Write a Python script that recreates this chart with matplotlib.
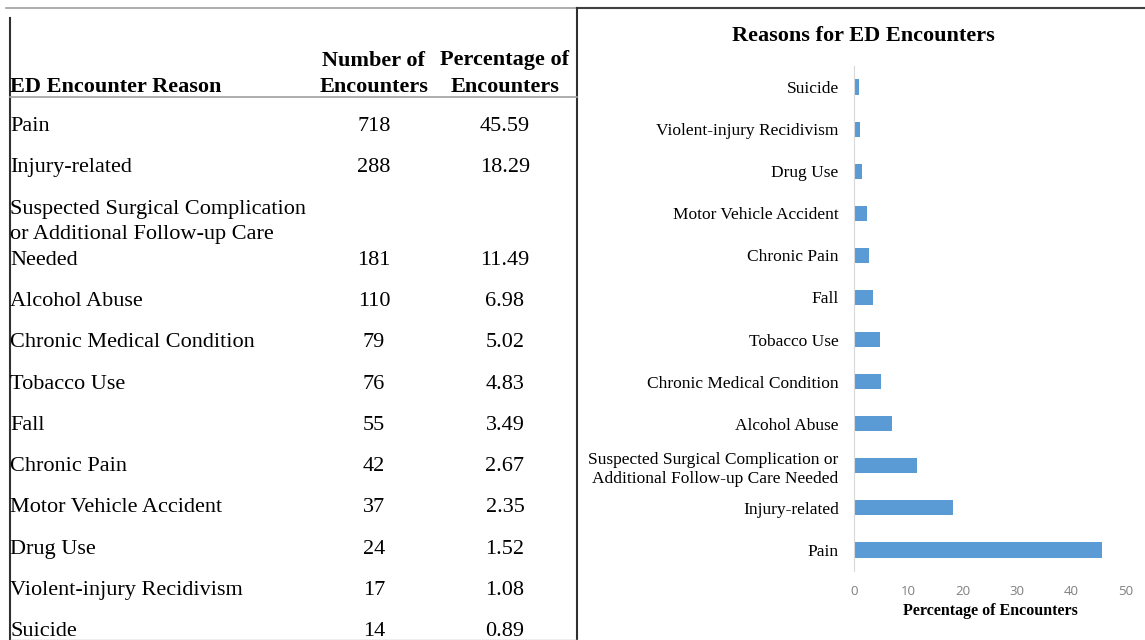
import matplotlib
matplotlib.use('Agg')
import matplotlib.pyplot as plt

# data
reasons = ['Pain', 'Injury-related',
           'Suspected Surgical Complication\nor Additional Follow-up Care\nNeeded',
           'Alcohol Abuse', 'Chronic Medical Condition', 'Tobacco Use', 'Fall',
           'Chronic Pain', 'Motor Vehicle Accident', 'Drug Use',
           'Violent-injury Recidivism', 'Suicide']
chart_labels = ['Pain', 'Injury-related',
                'Suspected Surgical Complication or\nAdditional Follow-up Care Needed',
                'Alcohol Abuse', 'Chronic Medical Condition', 'Tobacco Use', 'Fall',
                'Chronic Pain', 'Motor Vehicle Accident', 'Drug Use',
                'Violent-injury Recidivism', 'Suicide']
counts = [718, 288, 181, 110, 79, 76, 55, 42, 37, 24, 17, 14]
percents = [45.59, 18.29, 11.49, 6.98, 5.02, 4.83, 3.49, 2.67, 2.35, 1.52, 1.08, 0.89]
headers = ['ED Encounter Reason', 'Number of\nEncounters', 'Percentage of\nEncounters']

plt.rcParams['font.family'] = 'serif'
plt.rcParams['font.serif'] = ['Liberation Serif', 'Times New Roman', 'DejaVu Serif']

W, H = 1145, 640
fig = plt.figure(figsize=(W / 100, H / 100), dpi=100)

# ---- table drawn in pixel coordinates ----
tab = fig.add_axes([0, 0, 1, 1])
tab.set_xlim(0, W)
tab.set_ylim(H, 0)
tab.axis('off')

# borders
tab.plot([6, 577], [8, 8], color='#a0a0a0', lw=1.2)
tab.plot([577, W], [8, 8], color='#404040', lw=1.5)
tab.plot([10, 10], [18, H], color='#303030', lw=1.5)
tab.plot([577, 577], [8, H], color='#303030', lw=1.5)
tab.plot([10, 577], [97, 97], color='#a0a0a0', lw=1.2)
tab.plot([10, 577], [639.5, 639.5], color='#b0b0b0', lw=1.0)

fs = 16
col_num, col_pct = 374, 505
tab.text(10, 84, headers[0], fontsize=fs, fontweight='bold', ha='left', va='center_baseline')
for x, h in [(col_num, headers[1]), (col_pct, headers[2])]:
    top, bot = h.split('\n')
    tab.text(x, 58, top, fontsize=fs, fontweight='bold', ha='center', va='center_baseline')
    tab.text(x, 84, bot, fontsize=fs, fontweight='bold', ha='center', va='center_baseline')

row_gap, line_gap = 41.3, 25.5
y = 124 - row_gap
for name, n, p in zip(reasons, counts, percents):
    lines = name.split('\n')
    y += row_gap
    for i, ln in enumerate(lines):
        tab.text(10, y + i * line_gap, ln, fontsize=fs, ha='left', va='center_baseline')
    y += line_gap * (len(lines) - 1)
    tab.text(col_num, y, str(n), fontsize=fs, ha='center', va='center_baseline')
    tab.text(col_pct, y, '%.2f' % p, fontsize=fs, ha='center', va='center_baseline')

# ---- bar chart ----
ax = fig.add_axes([854 / W, 1 - 571 / H, (1126 - 854) / W, (571 - 66) / H])
pos = list(range(len(percents)))
ax.barh(pos, percents, height=0.36, color='#5b9bd5')
ax.set_xlim(0, 50)
ax.set_ylim(-0.5, 11.5)
ax.set_yticks(pos)
ax.set_yticklabels(chart_labels, fontsize=12.5, linespacing=1.3)
ax.set_xticks(range(0, 51, 10))
ax.tick_params(axis='y', length=0, pad=11)
ax.tick_params(axis='x', length=0, pad=10, labelcolor='#7f7f7f', labelsize=9.5)
for lab in ax.get_xticklabels():
    lab.set_fontfamily('Open Sans')
for s in ['top', 'right', 'bottom']:
    ax.spines[s].set_visible(False)
ax.spines['left'].set_color('#d9d9d9')
ax.set_xlabel('Percentage of Encounters', fontsize=11.5, fontweight='bold', va='center')
ax.xaxis.set_label_coords((990 - 854) / (1126 - 854), -(611 - 571) / (571 - 66))

fig.text(863 / W, 1 - 36 / H, 'Reasons for ED Encounters', fontsize=16, fontweight='bold',
         ha='center', va='center')

fig.savefig('out.png', dpi=100)
